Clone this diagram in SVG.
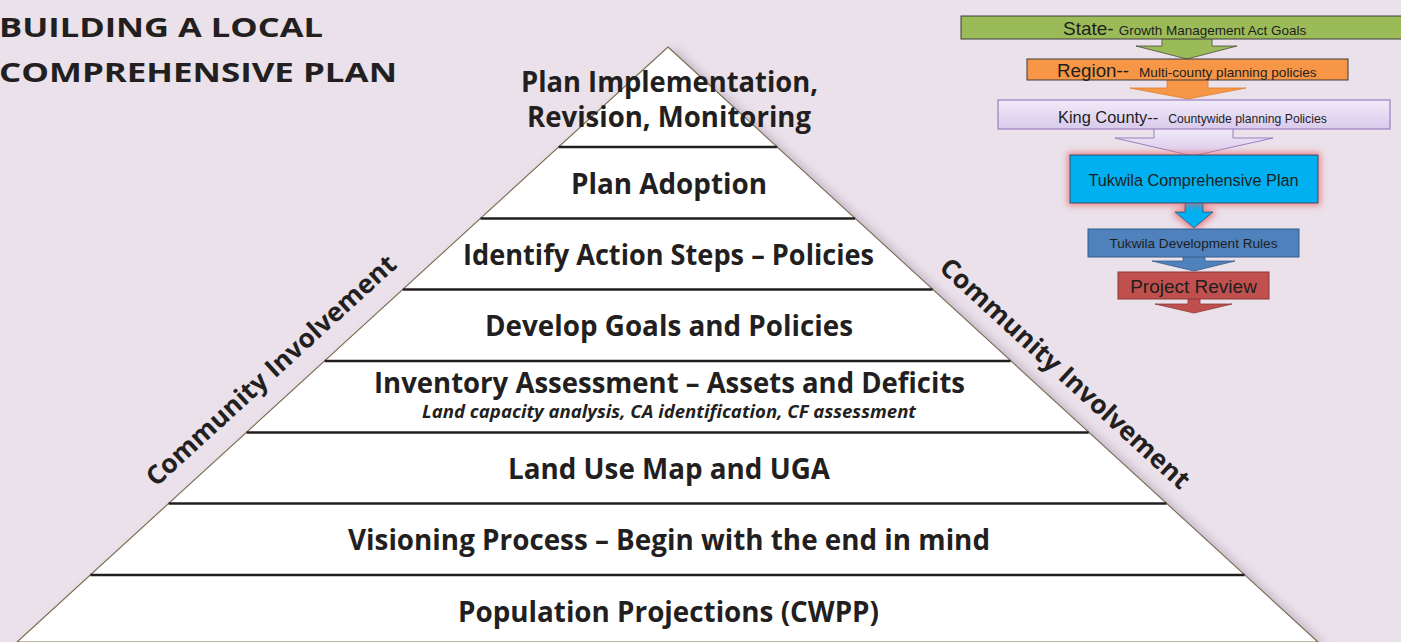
<svg xmlns="http://www.w3.org/2000/svg" width="1401" height="642" viewBox="0 0 1401 642">
<defs>
<style>
.bg{fill:#EAE1EA}
.py{font-family:"Open Sans","Liberation Sans",sans-serif;font-weight:700;font-size:28px;fill:#231f20;text-anchor:middle}
.pyi{font-family:"Open Sans","Liberation Sans",sans-serif;font-weight:700;font-style:italic;font-size:17px;fill:#231f20;text-anchor:middle}
.title{font-family:"Open Sans","Liberation Sans",sans-serif;font-weight:700;font-size:27px;fill:#231f20}
.ci{font-family:"Open Sans","Liberation Sans",sans-serif;font-weight:700;font-size:26px;fill:#231f20;text-anchor:middle}
.sep{stroke:#231f20;stroke-width:2.6}
.hb{font-family:"Liberation Sans",Arial,sans-serif;fill:#1e1e1e}
.hc{font-family:"Liberation Sans",Arial,sans-serif;fill:#1e1e1e;text-anchor:middle}
</style>
<filter id="shadow" x="-10%" y="-10%" width="125%" height="125%">
<feDropShadow dx="6" dy="2" stdDeviation="5" flood-color="#a898ad" flood-opacity="0.6"/>
</filter>
<filter id="glow" x="-30%" y="-60%" width="160%" height="220%">
<feMorphology in="SourceAlpha" operator="dilate" radius="2" result="d"/>
<feGaussianBlur in="d" stdDeviation="3" result="b"/>
<feFlood flood-color="#e66a6a" flood-opacity="0.75"/>
<feComposite in2="b" operator="in" result="g"/>
<feMerge><feMergeNode in="g"/><feMergeNode in="SourceGraphic"/></feMerge>
</filter>
<linearGradient id="lav" x1="0" y1="0" x2="0" y2="1">
<stop offset="0" stop-color="#f1ebf8"/>
<stop offset="1" stop-color="#d9caec"/>
</linearGradient>
</defs>
<rect class="bg" x="0" y="0" width="1401" height="642"/>

<g id="title">
<text class="title" x="-1" y="37" textLength="324" lengthAdjust="spacingAndGlyphs">BUILDING A LOCAL</text>
<text class="title" x="-1" y="82" textLength="398" lengthAdjust="spacingAndGlyphs">COMPREHENSIVE PLAN</text>
</g>

<g id="pyramid">
<polygon points="668,47 1318,642 17,642" fill="#ffffff" stroke="#7a6a4c" stroke-width="1.1" filter="url(#shadow)"/>
<line class="sep" x1="558.6" y1="147" x2="777.2" y2="147"/>
<line class="sep" x1="480.5" y1="218.5" x2="855.1" y2="218.5"/>
<line class="sep" x1="402.8" y1="289.5" x2="932.6" y2="289.5"/>
<line class="sep" x1="324.7" y1="361" x2="1010.6" y2="361"/>
<line class="sep" x1="246.5" y1="432.5" x2="1088.7" y2="432.5"/>
<line class="sep" x1="168.6" y1="503.5" x2="1166.5" y2="503.5"/>
<line class="sep" x1="90.4" y1="575" x2="1244.6" y2="575"/>
</g>

<g id="layer-implementation">
<text class="py" x="669.5" y="92" font-size="27" textLength="297" lengthAdjust="spacingAndGlyphs">Plan Implementation,</text>
<text class="py" x="669" y="127" font-size="27" textLength="284" lengthAdjust="spacingAndGlyphs">Revision, Monitoring</text>
</g>
<g id="layer-adoption"><text class="py" x="669" y="194" textLength="196" lengthAdjust="spacingAndGlyphs">Plan Adoption</text></g>
<g id="layer-action"><text class="py" x="668.5" y="265" textLength="411" lengthAdjust="spacingAndGlyphs">Identify Action Steps – Policies</text></g>
<g id="layer-goals"><text class="py" x="669" y="336" textLength="368" lengthAdjust="spacingAndGlyphs">Develop Goals and Policies</text></g>
<g id="layer-inventory">
<text class="py" x="669.5" y="393" textLength="591" lengthAdjust="spacingAndGlyphs">Inventory Assessment – Assets and Deficits</text>
<text class="pyi" x="669" y="418" textLength="494" lengthAdjust="spacingAndGlyphs">Land capacity analysis, CA identification, CF assessment</text>
</g>
<g id="layer-landuse"><text class="py" x="669" y="479" textLength="322" lengthAdjust="spacingAndGlyphs">Land Use Map and UGA</text></g>
<g id="layer-visioning"><text class="py" x="669" y="550" textLength="642" lengthAdjust="spacingAndGlyphs">Visioning Process – Begin with the end in mind</text></g>
<g id="layer-population"><text class="py" x="668.5" y="621.5" textLength="421" lengthAdjust="spacingAndGlyphs">Population Projections (CWPP)</text></g>

<g id="community-left">
<text class="ci" transform="translate(277,377) rotate(-42.4)" textLength="328" lengthAdjust="spacingAndGlyphs">Community Involvement</text>
</g>
<g id="community-right">
<text class="ci" transform="translate(1059,380) rotate(42.4)" textLength="328" lengthAdjust="spacingAndGlyphs">Community Involvement</text>
</g>

<g id="connectors">
<polygon points="1162,38 1212,38 1212,46 1237,46 1187,59 1136,46 1162,46" fill="#9BBB59" stroke="#4a4a40" stroke-width="0.8"/>
<polygon points="1167,79 1208,79 1208,88 1246,88 1188,99 1130,88 1167,88" fill="#F79646" stroke="#e07f30" stroke-width="0.8"/>
<polygon points="1154,128 1233,128 1233,138 1273,138 1193,156 1115,138 1154,138" fill="url(#lav)" stroke="#9b7fc0" stroke-width="1"/>
<polygon points="1185,202 1203,202 1203,212 1213,212 1194,228 1175,212 1185,212" fill="#00B0F0" stroke="#2b4a66" stroke-width="0.8" filter="url(#glow)"/>
<polygon points="1183,256 1205,256 1205,261 1235,261 1194,271 1152,261 1183,261" fill="#4F81BD" stroke="#385d8a" stroke-width="0.8"/>
<polygon points="1188,298 1200,298 1200,304 1232,304 1194,313 1155,304 1188,304" fill="#C0504D" stroke="#8c3836" stroke-width="0.8"/>
</g>

<g id="state">
<rect x="961" y="16" width="445" height="23" fill="#9BBB59" stroke="#3a3a3a" stroke-width="1"/>
<text class="hb" x="1063" y="35"><tspan font-size="19">State-</tspan><tspan font-size="13.5" dx="5">Growth Management Act Goals</tspan></text>
</g>
<g id="region">
<rect x="1027" y="59" width="321" height="21" fill="#F79646" stroke="#3a3a3a" stroke-width="1"/>
<text class="hb" x="1057" y="77"><tspan font-size="18.8">Region--</tspan><tspan font-size="13.6" dx="10">Multi-county planning policies</tspan></text>
</g>
<g id="king-county">
<rect x="998" y="100" width="392" height="29" fill="url(#lav)" stroke="#9b7fc0" stroke-width="1.2"/>
<text class="hb" x="1058" y="123"><tspan font-size="16.4">King County--</tspan><tspan font-size="12.2" dx="10">Countywide planning Policies</tspan></text>
</g>
<g id="tukwila-plan">
<rect x="1070" y="155" width="248" height="48" fill="#00B0F0" stroke="#2b4a66" stroke-width="1" filter="url(#glow)"/>
<text class="hc" x="1193.5" y="186" font-size="16.3">Tukwila Comprehensive Plan</text>
</g>
<g id="dev-rules">
<rect x="1088" y="229" width="211" height="28" fill="#4F81BD" stroke="#385d8a" stroke-width="1"/>
<text class="hc" x="1193.5" y="247.5" font-size="13.6">Tukwila Development Rules</text>
</g>
<g id="project-review">
<rect x="1118" y="272" width="151" height="27" fill="#C0504D" stroke="#8c3836" stroke-width="1"/>
<text class="hc" x="1193.5" y="292.5" font-size="19">Project Review</text>
</g>
</svg>
